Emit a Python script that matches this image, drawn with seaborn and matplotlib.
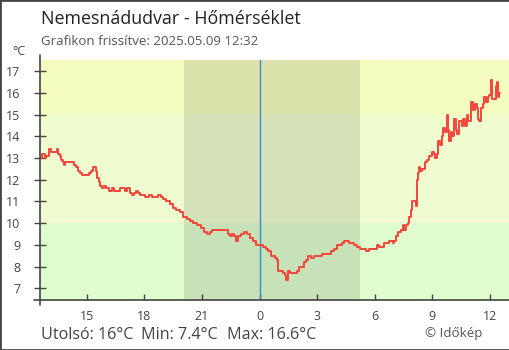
import matplotlib
matplotlib.use("Agg")
import matplotlib.pyplot as plt
from matplotlib.lines import Line2D
from matplotlib.patches import Rectangle
import matplotlib.dates as mdates
import pandas as pd
import seaborn as sns

station = "Nemesnádudvar"
updated = "2025.05.09 12:32"

day1_date = "2025-05-08"
day1_times = [
    "12:36", "12:40", "12:45", "12:49", "12:53", "13:01", "13:08", "13:25", "13:27", "13:30",
    "13:35", "13:39", "13:44", "13:47", "13:53", "14:08", "14:19", "14:26", "14:32", "14:40",
    "14:45", "15:01", "15:06", "15:14", "15:18", "15:24", "15:29", "15:32", "15:37", "15:42",
    "15:48", "15:53", "16:01", "16:08", "16:19", "16:24", "16:39", "16:45", "16:55", "17:00",
    "17:06", "17:13", "17:16", "17:21", "17:26", "17:35", "17:39", "17:45", "18:03", "18:13",
    "18:24", "18:44", "18:53", "18:58", "19:08", "19:19", "19:29", "19:40", "19:50", "20:01",
    "20:13", "20:23", "20:32", "20:44", "20:57", "21:07", "21:17", "21:26", "21:31", "21:45",
    "21:57", "22:16", "22:23", "22:28", "22:34", "22:41", "22:46", "22:52", "23:02", "23:12",
    "23:22", "23:31", "23:41", "23:50",
]
day1_temps = [
    13.0, 13.2, 13.2, 13.0, 13.1, 13.4, 13.3, 13.3, 13.4, 13.2,
    13.1, 12.9, 12.8, 12.7, 12.8, 12.8, 12.7, 12.6, 12.4, 12.3,
    12.2, 12.2, 12.3, 12.4, 12.6, 12.6, 12.4, 12.1, 11.9, 11.7,
    11.6, 11.7, 11.6, 11.5, 11.6, 11.5, 11.5, 11.6, 11.6, 11.5,
    11.6, 11.6, 11.4, 11.3, 11.4, 11.5, 11.4, 11.3, 11.2, 11.3,
    11.2, 11.3, 11.2, 11.1, 11.0, 10.9, 10.7, 10.6, 10.5, 10.3,
    10.2, 10.1, 10.0, 9.9, 9.8, 9.6, 9.5, 9.6, 9.7, 9.7,
    9.7, 9.7, 9.5, 9.4, 9.5, 9.4, 9.2, 9.4, 9.5, 9.6,
    9.5, 9.3, 9.2, 9.0,
]

day2_date = "2025-05-09"
day2_times = [
    "00:02", "00:12", "00:20", "00:28", "00:36", "00:44", "00:49", "00:54", "00:59", "01:10",
    "01:15", "01:21", "01:23", "01:28", "01:36", "01:52", "01:57", "02:02", "02:13", "02:18",
    "02:26", "02:31", "02:36", "02:41", "02:49", "03:15", "03:43", "03:53", "04:02", "04:18",
    "04:25", "04:33", "04:41", "04:56", "05:04", "05:13", "05:20", "05:25", "05:33", "05:41",
    "05:46", "06:07", "06:14", "06:28", "06:45", "06:57", "07:02", "07:07", "07:14", "07:22",
    "07:30", "07:33", "07:38", "07:44", "07:48", "07:53", "07:58", "08:04", "08:09", "08:12",
    "08:15", "08:19", "08:22", "08:27", "08:32", "08:38", "08:45", "08:50", "08:59", "09:06",
    "09:09", "09:14", "09:19", "09:25", "09:30", "09:35", "09:40", "09:46", "09:51", "09:53",
    "09:58", "10:03", "10:08", "10:14", "10:19", "10:25", "10:33", "10:38", "10:43", "10:48",
    "10:53", "11:01", "11:07", "11:14", "11:19", "11:24", "11:28", "11:33", "11:38", "11:43",
    "11:48", "11:54", "11:59", "12:04", "12:08", "12:13", "12:19", "12:22", "12:25", "12:28",
    "12:32",
]
day2_temps = [
    9.0, 8.9, 8.8, 8.7, 8.5, 8.5, 8.4, 8.3, 7.8, 7.8,
    7.7, 7.6, 7.4, 7.8, 7.7, 7.7, 7.8, 8.0, 8.0, 8.2,
    8.3, 8.5, 8.5, 8.4, 8.5, 8.6, 8.7, 8.8, 9.0, 9.1,
    9.2, 9.2, 9.1, 9.0, 8.9, 8.8, 8.8, 8.8, 8.7, 8.8,
    8.8, 9.0, 8.9, 9.1, 9.2, 9.1, 9.2, 9.4, 9.6, 9.7,
    9.9, 9.7, 9.9, 10.0, 10.3, 10.6, 11.0, 11.0, 10.8, 12.0,
    12.3, 12.6, 12.4, 12.5, 12.5, 12.8, 12.9, 13.1, 13.3, 13.2,
    13.0, 13.2, 13.8, 13.6, 14.0, 14.4, 14.2, 15.0, 14.3, 13.8,
    14.2, 14.0, 14.8, 14.3, 14.1, 14.7, 14.5, 14.8, 14.5, 15.0,
    14.7, 15.6, 15.2, 15.5, 15.3, 14.8, 14.7, 15.3, 15.5, 15.8,
    15.6, 15.8, 15.9, 16.6, 15.7, 15.7, 16.3, 16.5, 15.8, 16.0,
    16.0,
]

tick_times = ["2025-05-08 15:00", "2025-05-08 18:00", "2025-05-08 21:00",
              "2025-05-09 00:00", "2025-05-09 03:00", "2025-05-09 06:00",
              "2025-05-09 09:00", "2025-05-09 12:00"]
tick_labels = ["15", "18", "21", "0", "3", "6", "9", "12"]
y_ticks = [7, 8, 9, 10, 11, 12, 13, 14, 15, 16, 17]

window = ("2025-05-08 12:35", "2025-05-09 13:00")
night = ("2025-05-08 20:03", "2025-05-09 05:15")
midnight = "2025-05-09 00:00"
y_range = (6.46, 17.52)
band_edges = [10, 15]
band_colors = ["#defccd", "#effcd0", "#f5fcc0"]

# Build the series
frames = []
for date, times, temps in [(day1_date, day1_times, day1_temps),
                           (day2_date, day2_times, day2_temps)]:
    frames.append(pd.DataFrame({
        "time": pd.to_datetime([f"{date} {t}" for t in times]),
        "temp": temps,
    }))
df = pd.concat(frames, ignore_index=True)

sns.set_theme(style="white")
plt.rcParams["font.family"] = ["Open Sans", "DejaVu Sans"]

fig = plt.figure(figsize=(5.1, 3.5), dpi=100)
ax = fig.add_axes([40.5 / 510, 50 / 350, 468.4 / 510, 240 / 350])

# Temperature bands
lo, hi = y_range
edges = [lo] + band_edges + [hi]
for i, c in enumerate(band_colors):
    ax.axhspan(edges[i], edges[i + 1], color=c, lw=0, zorder=0)

# Night shading and midnight marker
ax.axvspan(pd.Timestamp(night[0]), pd.Timestamp(night[1]), color="black", alpha=0.1, lw=0, zorder=1)
ax.axvline(pd.Timestamp(midnight), color="#3a8dc8", lw=1.0, zorder=2)

sns.lineplot(data=df, x="time", y="temp", ax=ax, estimator=None,
             drawstyle="steps-post", color="#f5463b", lw=1.4, zorder=3)

ax.set_xlim(pd.Timestamp(window[0]), pd.Timestamp(window[1]))
ax.set_ylim(*y_range)
ax.set_xlabel("")
ax.set_ylabel("")

ax.set_xticks([mdates.date2num(pd.Timestamp(t)) for t in tick_times])
ax.set_xticklabels(tick_labels)
ax.set_yticks(y_ticks)
ax.set_yticklabels([str(v) for v in y_ticks])

ax.tick_params(axis="y", direction="inout", length=9, width=1, color="#444444",
               labelsize=9, labelcolor="#444444", pad=10, left=True)
ax.tick_params(axis="x", direction="in", length=4.3, width=1, color="#444444",
               labelsize=9, labelcolor="#444444", pad=7, bottom=True)

for s in ax.spines.values():
    s.set_visible(False)

# Axis lines slightly overshooting the plot area
ax.add_line(Line2D([0, 0], [-0.021, 1.021], transform=ax.transAxes, color="#444444",
                   lw=1.2, clip_on=False, zorder=5))
ax.add_line(Line2D([-0.013, 1.0], [0, 0], transform=ax.transAxes, color="#444444",
                   lw=1.2, clip_on=False, zorder=5))

# Texts
W, H = 510.0, 350.0
fig.text(40.7 / W, 1 - 24 / H, f"{station} - Hőmérséklet", fontsize=12.9,
         color="#222222", va="baseline", ha="left")
fig.text(40.7 / W, 1 - 45 / H, f"Grafikon frissítve: {updated}", fontsize=9.5,
         color="#555555", va="baseline", ha="left")
fig.text(12.5 / W, 1 - 55 / H, "°C", fontsize=9, color="#444444",
         va="baseline", ha="left")

last = df["temp"].iloc[-1]
tmin = df["temp"].min()
tmax = df["temp"].max()
summary = [(40.7, f"Utolsó: {last:g}°C"), (141, f"Min: {tmin:g}°C"), (227, f"Max: {tmax:g}°C")]
for x, s in summary:
    fig.text(x / W, 1 - 339 / H, s, fontsize=11.6, color="#444444",
             va="baseline", ha="left")
fig.text(425 / W, 1 - 337 / H, "© Időkép", fontsize=9.6, color="#555555",
         va="baseline", ha="left")

# Outer frame
fig.add_artist(Rectangle((0, 0), 1, 1, transform=fig.transFigure, fill=False,
                         edgecolor="#444444", lw=2, clip_on=False))

fig.savefig("out.png", dpi=100)
